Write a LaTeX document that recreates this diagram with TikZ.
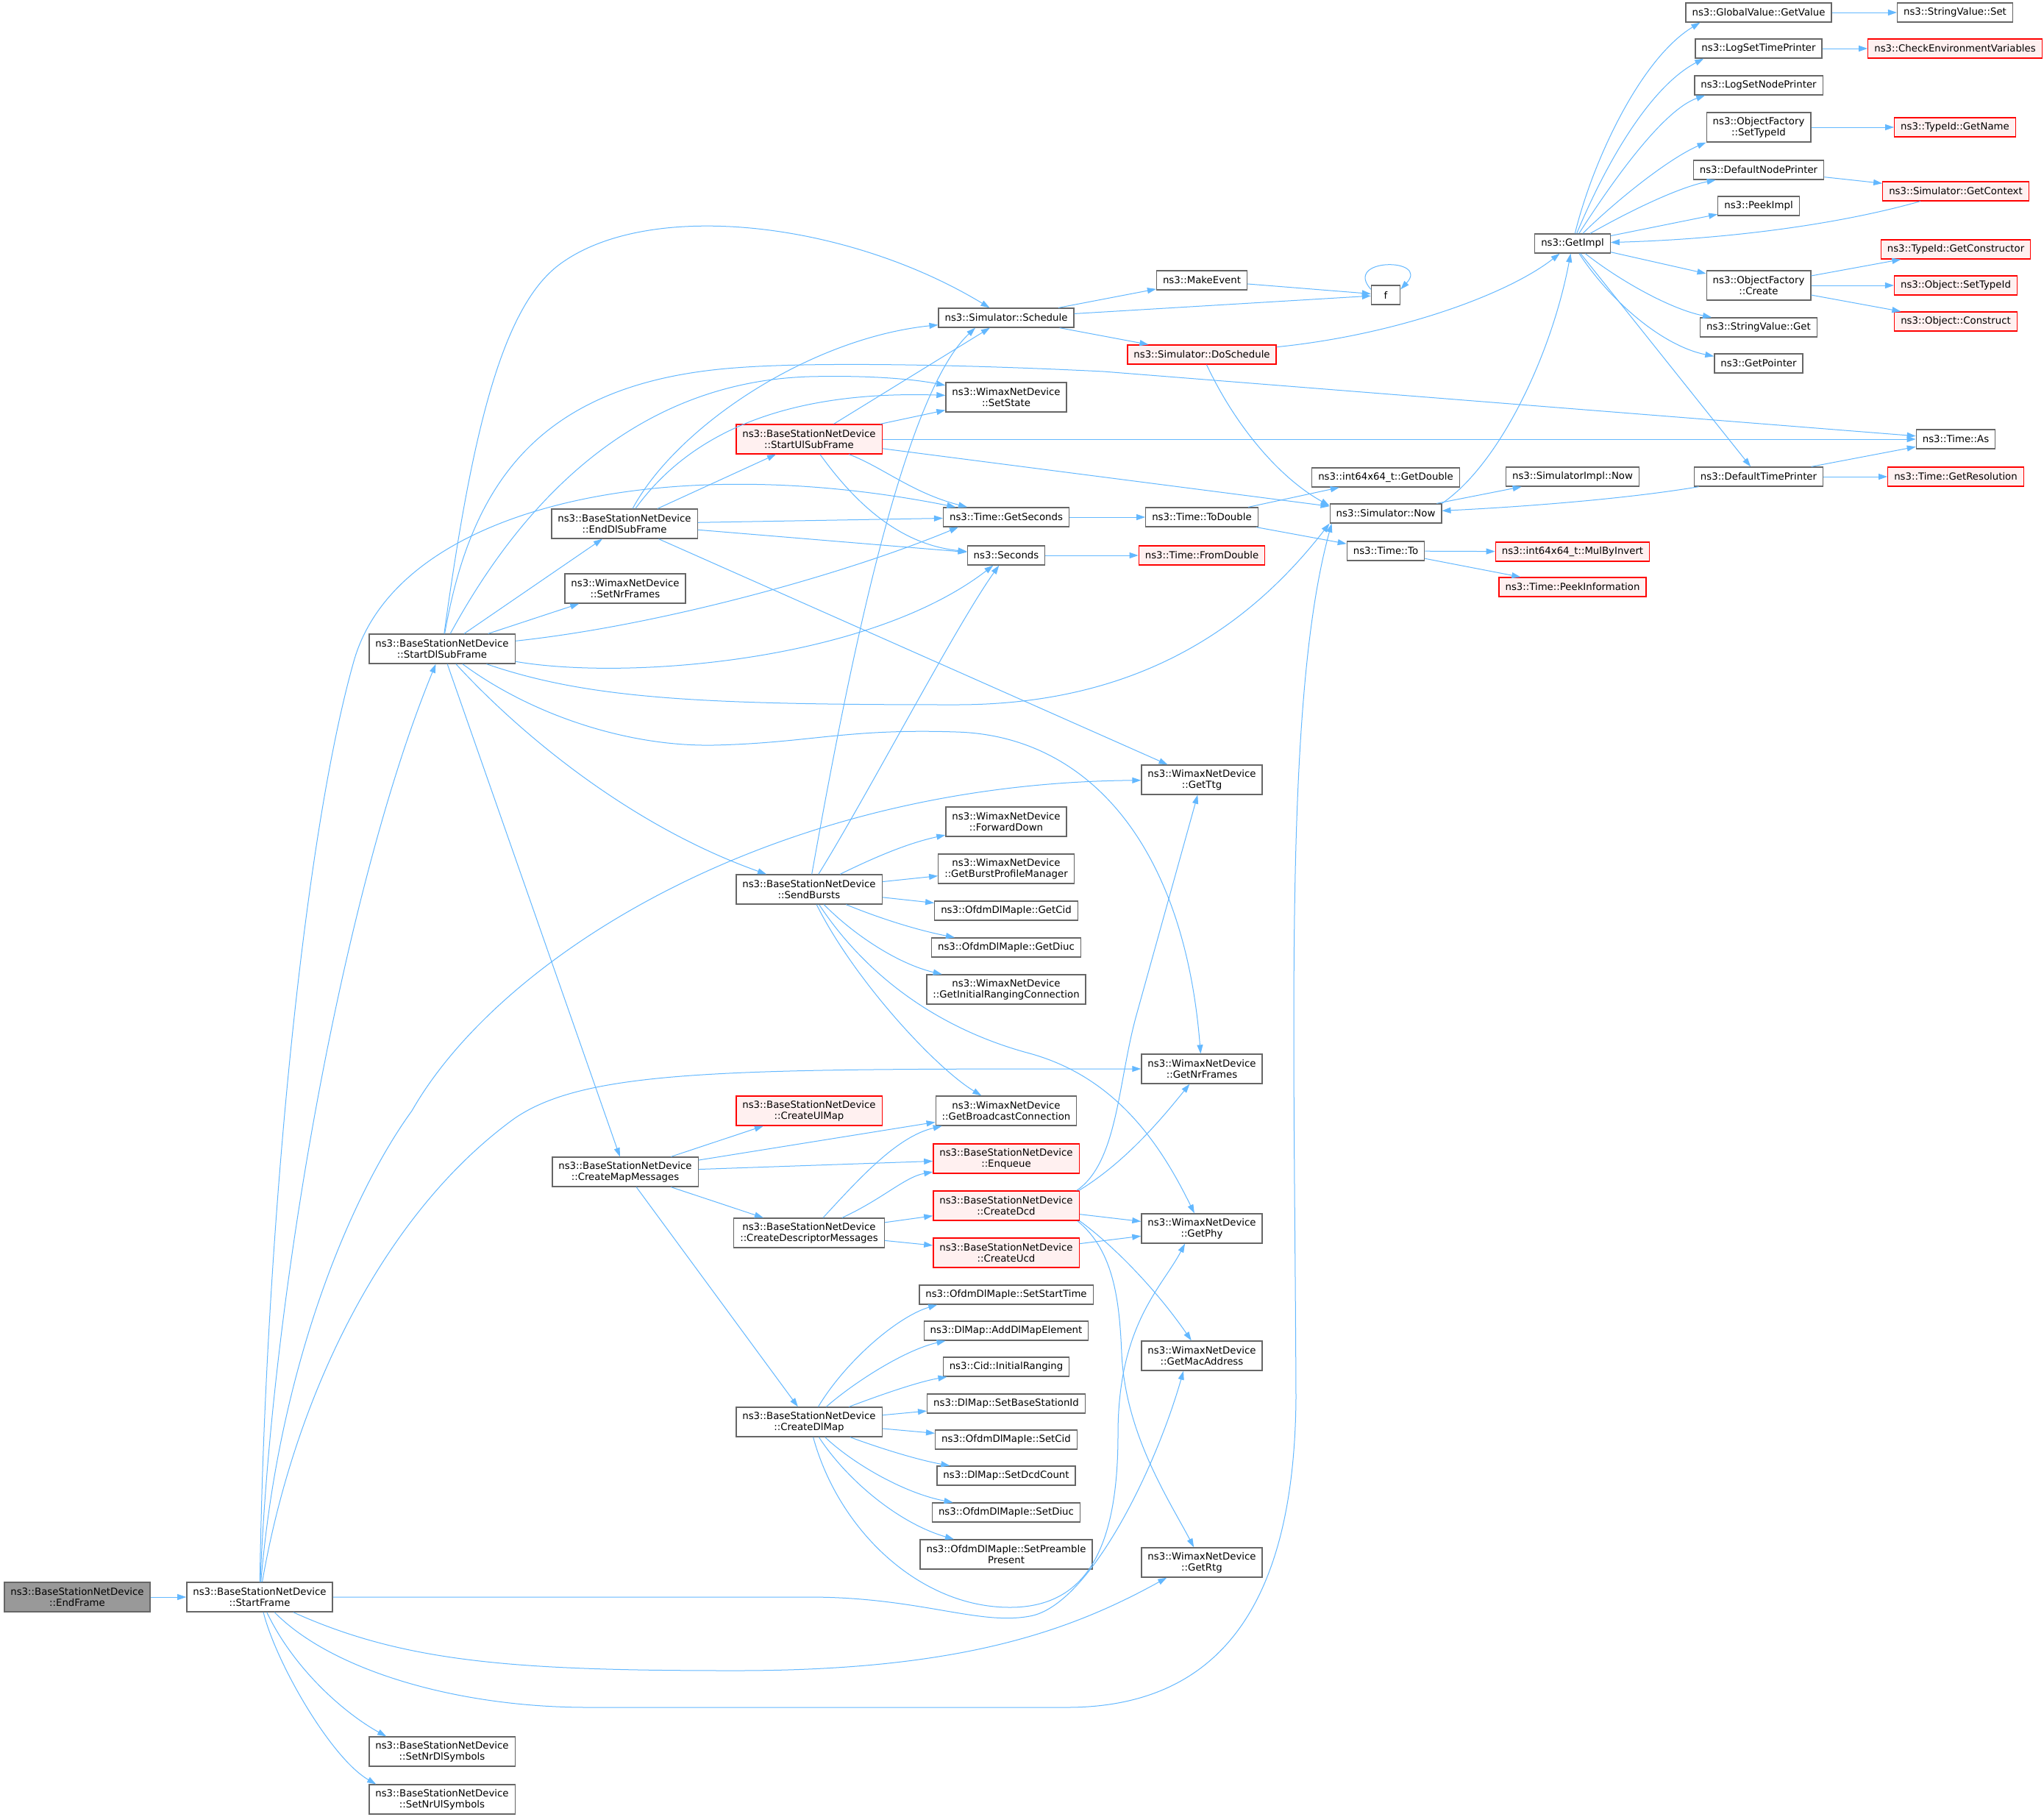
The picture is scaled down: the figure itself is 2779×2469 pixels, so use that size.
\documentclass[tikz,border=0pt]{standalone}
\usepackage{fontspec}
\setmainfont{DejaVu Sans}
\usepackage{tikz}
\usetikzlibrary{arrows.meta}
\definecolor{callblue}{HTML}{63B8FF}
\definecolor{boxgray}{HTML}{666666}
\definecolor{hotfill}{HTML}{FFF0F0}
\definecolor{rootgray}{HTML}{999999}
\newcommand{\graphfont}{\fontsize{13.3pt}{15pt}\selectfont}
\tikzset{
  fn/.style={draw=boxgray, fill=white, line width=1.3pt, inner xsep=8.5pt, inner ysep=3pt, minimum height=26pt, font=\graphfont, align=center},
  fntwo/.style={fn, minimum height=40pt},
  hot/.style={draw=red, fill=hotfill},
  root/.style={fill=rootgray},
  call/.style={draw=callblue, line width=1pt, -{Triangle[length=12pt,width=8pt]}},
}

\begin{document}
\begin{tikzpicture}[x=1pt, y=-1pt]
			%%%%% START %%%%%
			\fill[white] (0,0) rectangle (2779,2469);
			\useasboundingbox (0,0) rectangle (2779,2469);

			% left columns
			\node[fntwo, root] (EndFrame) at (105,2171) {ns3::BaseStationNetDevice\\::EndFrame};
			\node[fntwo] (StartFrame) at (353,2171) {ns3::BaseStationNetDevice\\::StartFrame};
			\node[fntwo] (StartDlSubFrame) at (601,882) {ns3::BaseStationNetDevice\\::StartDlSubFrame};
			\node[fntwo] (SetNrDlSymbols) at (601,2381) {ns3::BaseStationNetDevice\\::SetNrDlSymbols};
			\node[fntwo] (SetNrUlSymbols) at (601,2446) {ns3::BaseStationNetDevice\\::SetNrUlSymbols};
			\node[fntwo] (EndDlSubFrame) at (849,712) {ns3::BaseStationNetDevice\\::EndDlSubFrame};
			\node[fntwo] (SetNrFrames) at (850,800) {ns3::WimaxNetDevice\\::SetNrFrames};
			\node[fntwo] (CreateMapMessages) at (850,1593) {ns3::BaseStationNetDevice\\::CreateMapMessages};
			\node[fntwo, hot] (StartUlSubFrame) at (1100,597) {ns3::BaseStationNetDevice\\::StartUlSubFrame};
			\node[fntwo] (SendBursts) at (1100,1209) {ns3::BaseStationNetDevice\\::SendBursts};
			\node[fntwo, hot] (CreateUlMap) at (1100,1510) {ns3::BaseStationNetDevice\\::CreateUlMap};
			\node[fntwo] (CreateDescriptorMessages) at (1100,1676) {ns3::BaseStationNetDevice\\::CreateDescriptorMessages};
			\node[fntwo] (CreateDlMap) at (1100,1933) {ns3::BaseStationNetDevice\\::CreateDlMap};

			% middle column
			\node[fn] (Schedule) at (1368,432) {ns3::Simulator::Schedule};
			\node[fntwo] (SetState) at (1368,540) {ns3::WimaxNetDevice\\::SetState};
			\node[fn] (GetSeconds) at (1368,703) {ns3::Time::GetSeconds};
			\node[fn] (Seconds) at (1368,755) {ns3::Seconds};
			\node[fntwo] (ForwardDown) at (1368,1117) {ns3::WimaxNetDevice\\::ForwardDown};
			\node[fntwo] (GetBurstProfileManager) at (1368,1181) {ns3::WimaxNetDevice\\::GetBurstProfileManager};
			\node[fn] (GetCid) at (1368,1238) {ns3::OfdmDlMapIe::GetCid};
			\node[fn] (GetDiuc) at (1368,1288) {ns3::OfdmDlMapIe::GetDiuc};
			\node[fntwo] (GetInitialRangingConnection) at (1368,1345) {ns3::WimaxNetDevice\\::GetInitialRangingConnection};
			\node[fntwo] (GetBroadcastConnection) at (1368,1510) {ns3::WimaxNetDevice\\::GetBroadcastConnection};
			\node[fntwo, hot] (Enqueue) at (1368,1575) {ns3::BaseStationNetDevice\\::Enqueue};
			\node[fntwo, hot] (CreateDcd) at (1368,1639) {ns3::BaseStationNetDevice\\::CreateDcd};
			\node[fntwo, hot] (CreateUcd) at (1368,1703) {ns3::BaseStationNetDevice\\::CreateUcd};
			\node[fn] (SetStartTime) at (1368,1760) {ns3::OfdmDlMapIe::SetStartTime};
			\node[fn] (AddDlMapElement) at (1368,1809) {ns3::DlMap::AddDlMapElement};
			\node[fn] (InitialRanging) at (1368,1858) {ns3::Cid::InitialRanging};
			\node[fn] (SetBaseStationId) at (1368,1908) {ns3::DlMap::SetBaseStationId};
			\node[fn] (SetCid) at (1368,1957) {ns3::OfdmDlMapIe::SetCid};
			\node[fn] (SetDcdCount) at (1368,2006) {ns3::DlMap::SetDcdCount};
			\node[fn] (SetDiuc) at (1368,2056) {ns3::OfdmDlMapIe::SetDiuc};
			\node[fntwo] (SetPreamblePresent) at (1368,2113) {ns3::OfdmDlMapIe::SetPreamble\\Present};

			\node[fn] (MakeEvent) at (1634,381) {ns3::MakeEvent};
			\node[fn, hot] (DoSchedule) at (1634,482) {ns3::Simulator::DoSchedule};
			\node[fn] (ToDouble) at (1634,703) {ns3::Time::ToDouble};
			\node[fn, hot] (FromDouble) at (1634,755) {ns3::Time::FromDouble};
			\node[fntwo] (GetTtg) at (1634,1060) {ns3::WimaxNetDevice\\::GetTtg};
			\node[fntwo] (GetNrFrames) at (1634,1453) {ns3::WimaxNetDevice\\::GetNrFrames};
			\node[fntwo] (GetPhy) at (1634,1670) {ns3::WimaxNetDevice\\::GetPhy};
			\node[fntwo] (GetMacAddress) at (1634,1843) {ns3::WimaxNetDevice\\::GetMacAddress};
			\node[fntwo] (GetRtg) at (1634,2124) {ns3::WimaxNetDevice\\::GetRtg};

			% right columns
			\node[fn, minimum width=39pt] (f) at (1884,401) {f};
			\node[fn] (GetDouble) at (1884,649) {ns3::int64x64\_t::GetDouble};
			\node[fn] (Now) at (1884,698) {ns3::Simulator::Now};
			\node[fn] (TimeTo) at (1884,749) {ns3::Time::To};
			\node[fn] (GetImpl) at (2138,331) {ns3::GetImpl};
			\node[fn] (SimImplNow) at (2138,648) {ns3::SimulatorImpl::Now};
			\node[fn, hot] (MulByInvert) at (2138,750) {ns3::int64x64\_t::MulByInvert};
			\node[fn, hot] (PeekInformation) at (2138,798) {ns3::Time::PeekInformation};

			\node[fn] (GetValue) at (2391,17) {ns3::GlobalValue::GetValue};
			\node[fn] (LogSetTimePrinter) at (2391,66) {ns3::LogSetTimePrinter};
			\node[fn] (LogSetNodePrinter) at (2391,116) {ns3::LogSetNodePrinter};
			\node[fntwo] (OFSetTypeId) at (2391,173) {ns3::ObjectFactory\\::SetTypeId};
			\node[fn] (DefaultNodePrinter) at (2391,231) {ns3::DefaultNodePrinter};
			\node[fn] (PeekImpl) at (2391,280) {ns3::PeekImpl};
			\node[fntwo] (OFCreate) at (2391,388) {ns3::ObjectFactory\\::Create};
			\node[fn] (StringValueGet) at (2391,445) {ns3::StringValue::Get};
			\node[fn] (GetPointer) at (2391,494) {ns3::GetPointer};
			\node[fn] (DefaultTimePrinter) at (2391,648) {ns3::DefaultTimePrinter};

			\node[fn] (StringValueSet) at (2658,17) {ns3::StringValue::Set};
			\node[fn, hot] (CheckEnv) at (2658,66) {ns3::CheckEnvironmentVariables};
			\node[fn, hot] (GetName) at (2658,173) {ns3::TypeId::GetName};
			\node[fn, hot] (GetContext) at (2659,260) {ns3::Simulator::GetContext};
			\node[fn, hot] (GetConstructor) at (2659,339) {ns3::TypeId::GetConstructor};
			\node[fn, hot] (ObjSetTypeId) at (2659,388) {ns3::Object::SetTypeId};
			\node[fn, hot] (ObjConstruct) at (2659,437) {ns3::Object::Construct};
			\node[fn] (TimeAs) at (2659,597) {ns3::Time::As};
			\node[fn, hot] (GetResolution) at (2659,648) {ns3::Time::GetResolution};

			% calls of StartFrame
			\draw[call] (EndFrame) -- (StartFrame);
			\draw[call] (StartFrame) .. controls (370,1750) and (470,1200) .. (StartDlSubFrame);
			\draw[call] (StartFrame) .. controls (360,1700) and (410,1150) .. (481,899) .. controls (540,690) and (900,610) .. (GetSeconds);
			\draw[call] (StartFrame) .. controls (380,1850) and (480,1620) .. (560,1510) .. controls (680,1300) and (1050,1065) .. (GetTtg);
			\draw[call] (StartFrame) .. controls (400,1900) and (520,1650) .. (700,1520) .. controls (800,1452) and (1000,1453) .. (GetNrFrames);
			\draw[call] (StartFrame) -- (1100,2171) .. controls (1250,2171) and (1330,2210) .. (1400,2197) .. controls (1480,2183) and (1570,2000) .. ([xshift=-25pt]GetMacAddress.south);
			\draw[call] (StartFrame) .. controls (550,2260) and (700,2271) .. (1000,2271) .. controls (1300,2271) and (1450,2220) .. ([xshift=35pt]GetRtg.south west);
			\draw[call] (StartFrame) .. controls (450,2270) and (620,2321) .. (800,2321) -- (1450,2321) .. controls (1680,2321) and (1760,2150) .. (1762,1900) .. controls (1760,1400) and (1745,950) .. ([xshift=3pt]Now.south west);
			\draw[call] (StartFrame) .. controls (400,2270) and (470,2330) .. ([xshift=24pt]SetNrDlSymbols.north west);
			\draw[call] (StartFrame) .. controls (375,2260) and (450,2390) .. ([xshift=10pt]SetNrUlSymbols.north west);

			% calls of StartDlSubFrame
			\draw[call] (StartDlSubFrame) .. controls (640,600) and (680,420) .. (760,360) .. controls (880,270) and (1150,300) .. (Schedule);
			\draw[call] (StartDlSubFrame) .. controls (640,660) and (730,520) .. (1000,500) .. controls (1100,492) and (1300,495) .. (1500,505) -- (TimeAs);
			\draw[call] (StartDlSubFrame) .. controls (700,700) and (850,520) .. (1100,512) .. controls (1180,510) and (1240,515) .. (SetState);
			\draw[call] (StartDlSubFrame) -- (EndDlSubFrame);
			\draw[call] (StartDlSubFrame) -- (SetNrFrames);
			\draw[call] (StartDlSubFrame) .. controls (900,850) and (1150,780) .. ([xshift=21pt]GetSeconds.south west);
			\draw[call] (StartDlSubFrame) .. controls (850,925) and (1180,900) .. (Seconds);
			\draw[call] (StartDlSubFrame) .. controls (800,950) and (950,958) .. (1300,958) .. controls (1550,958) and (1700,850) .. (Now.south west);
			\draw[call] (StartDlSubFrame) .. controls (700,990) and (850,1120) .. (SendBursts);
			\draw[call] (StartDlSubFrame) -- (CreateMapMessages);
			\draw[call] (StartDlSubFrame) .. controls (720,970) and (850,1015) .. (970,1013) .. controls (1100,1010) and (1150,990) .. (1300,995) .. controls (1480,1000) and (1610,1150) .. (GetNrFrames);

			% calls of EndDlSubFrame and StartUlSubFrame
			\draw[call] (EndDlSubFrame) -- (StartUlSubFrame);
			\draw[call] (EndDlSubFrame) .. controls (920,580) and (1100,460) .. (Schedule);
			\draw[call] (EndDlSubFrame) .. controls (930,600) and (1050,530) .. (SetState);
			\draw[call] (EndDlSubFrame) -- (GetSeconds);
			\draw[call] (EndDlSubFrame) -- (Seconds);
			\draw[call] (EndDlSubFrame) -- (GetTtg);
			\draw[call] (StartUlSubFrame) -- (Schedule);
			\draw[call] (StartUlSubFrame) -- (SetState);
			\draw[call] (StartUlSubFrame) -- (TimeAs);
			\draw[call] (StartUlSubFrame) -- (Now);
			\draw[call] (StartUlSubFrame) .. controls (1200,635) and (1240,670) .. (GetSeconds);
			\draw[call] (StartUlSubFrame) .. controls (1160,680) and (1220,740) .. (Seconds);

			% calls of SendBursts
			\draw[call] (SendBursts) .. controls (1150,930) and (1225,540) .. ([xshift=-42pt]Schedule.south);
			\draw[call] (SendBursts) .. controls (1180,1080) and (1300,850) .. (Seconds);
			\draw[call] (SendBursts) .. controls (1200,1160) and (1240,1145) .. (ForwardDown);
			\draw[call] (SendBursts) -- (GetBurstProfileManager);
			\draw[call] (SendBursts) -- (GetCid);
			\draw[call] (SendBursts) .. controls (1200,1250) and (1250,1265) .. (GetDiuc);
			\draw[call] (SendBursts) .. controls (1160,1270) and (1220,1310) .. (GetInitialRangingConnection);
			\draw[call] (SendBursts) .. controls (1160,1330) and (1270,1450) .. (GetBroadcastConnection);
			\draw[call] (SendBursts) .. controls (1180,1330) and (1280,1400) .. (1400,1432) .. controls (1520,1465) and (1580,1560) .. (GetPhy);

			% calls of CreateMapMessages and CreateDescriptorMessages
			\draw[call] (CreateMapMessages) -- (CreateUlMap);
			\draw[call] (CreateMapMessages) -- (GetBroadcastConnection);
			\draw[call] (CreateMapMessages) -- (Enqueue);
			\draw[call] (CreateMapMessages) -- (CreateDescriptorMessages);
			\draw[call] (CreateMapMessages) -- (CreateDlMap);
			\draw[call] (CreateDescriptorMessages) .. controls (1170,1600) and (1220,1545) .. (GetBroadcastConnection);
			\draw[call] (CreateDescriptorMessages) .. controls (1200,1630) and (1230,1600) .. (Enqueue);
			\draw[call] (CreateDescriptorMessages) -- (CreateDcd);
			\draw[call] (CreateDescriptorMessages) -- (CreateUcd);

			% calls of CreateDcd and CreateUcd
			\draw[call] ([xshift=-4pt]CreateDcd.north east) .. controls (1520,1580) and (1520,1470) .. (1545,1380) -- (GetTtg);
			\draw[call] ([xshift=-1pt]CreateDcd.north east) .. controls (1530,1580) and (1580,1520) .. (GetNrFrames);
			\draw[call] (CreateDcd) -- (GetPhy);
			\draw[call] (CreateDcd.south east) .. controls (1510,1690) and (1570,1750) .. (GetMacAddress);
			\draw[call] ([xshift=-3pt]CreateDcd.south east) .. controls (1515,1700) and (1522,1770) .. (1525,1840) .. controls (1530,1950) and (1590,2040) .. (GetRtg);
			\draw[call] (CreateUcd) -- (GetPhy);

			% calls of CreateDlMap
			\draw[call] (CreateDlMap) .. controls (1150,1850) and (1220,1790) .. ([xshift=25pt]SetStartTime.south west);
			\draw[call] (CreateDlMap) .. controls (1160,1880) and (1230,1835) .. ([xshift=30pt]AddDlMapElement.south west);
			\draw[call] (CreateDlMap) .. controls (1200,1895) and (1250,1878) .. (InitialRanging);
			\draw[call] (CreateDlMap) -- (SetBaseStationId);
			\draw[call] (CreateDlMap) -- (SetCid);
			\draw[call] (CreateDlMap) .. controls (1200,1970) and (1250,1985) .. (SetDcdCount);
			\draw[call] (CreateDlMap) .. controls (1160,1990) and (1230,2030) .. (SetDiuc);
			\draw[call] (CreateDlMap) .. controls (1150,2010) and (1220,2070) .. (SetPreamblePresent);
			\draw[call] (CreateDlMap) .. controls (1140,2080) and (1250,2185) .. (1373,2185) .. controls (1480,2185) and (1520,2100) .. (1520,1950) .. controls (1520,1800) and (1580,1750) .. ([xshift=-23pt]GetPhy.south);

			% simulator and time
			\draw[call] (Schedule) -- (MakeEvent);
			\draw[call] (Schedule) -- (f);
			\draw[call] (Schedule) -- (DoSchedule);
			\draw[call] (MakeEvent) -- (f);
			\draw[call] ([yshift=-6pt]f.north west) .. controls (1825,350) and (1945,350) .. ([yshift=-6pt]f.north east);
			\draw[call] (DoSchedule) .. controls (1900,455) and (2050,400) .. (GetImpl);
			\draw[call] (DoSchedule) .. controls (1680,580) and (1740,650) .. ([yshift=-3pt]Now.north west);
			\draw[call] (Now.north east) .. controls (2040,630) and (2110,480) .. (GetImpl);
			\draw[call] (Now) -- (SimImplNow);
			\draw[call] (GetSeconds) -- (ToDouble);
			\draw[call] (ToDouble) -- (GetDouble);
			\draw[call] (ToDouble) -- (TimeTo);
			\draw[call] (Seconds) -- (FromDouble);
			\draw[call] (TimeTo) -- (MulByInvert);
			\draw[call] (TimeTo) -- (PeekInformation);

			% calls of GetImpl
			\draw[call] (GetImpl) .. controls (2165,220) and (2230,80) .. ([xshift=20pt]GetValue.south west);
			\draw[call] (GetImpl) .. controls (2180,230) and (2240,120) .. ([xshift=12pt]LogSetTimePrinter.south west);
			\draw[call] (GetImpl) .. controls (2190,250) and (2260,150) .. ([xshift=15pt]LogSetNodePrinter.south west);
			\draw[call] (GetImpl) .. controls (2200,270) and (2270,215) .. (OFSetTypeId.south west);
			\draw[call] (GetImpl) .. controls (2210,290) and (2280,255) .. ([xshift=31pt]DefaultNodePrinter.south west);
			\draw[call] (GetImpl) -- (PeekImpl);
			\draw[call] (GetContext) .. controls (2500,305) and (2350,325) .. (GetImpl);
			\draw[call] (GetImpl) -- (OFCreate);
			\draw[call] (GetImpl) .. controls (2200,380) and (2270,420) .. ([xshift=16pt]StringValueGet.north west);
			\draw[call] (GetImpl) .. controls (2190,410) and (2260,470) .. ([yshift=-4pt]GetPointer.north west);
			\draw[call] (GetImpl) -- (DefaultTimePrinter);
			\draw[call] (GetValue) -- (StringValueSet);
			\draw[call] (LogSetTimePrinter) -- (CheckEnv);
			\draw[call] (OFSetTypeId) -- (GetName);
			\draw[call] (DefaultNodePrinter) -- (GetContext);
			\draw[call] (OFCreate) -- (GetConstructor);
			\draw[call] (OFCreate) -- (ObjSetTypeId);
			\draw[call] (OFCreate) -- (ObjConstruct);
			\draw[call] (DefaultTimePrinter) -- (TimeAs);
			\draw[call] (DefaultTimePrinter) -- (GetResolution);
			\draw[call] (DefaultTimePrinter) .. controls (2200,680) and (2050,690) .. (Now);
			%%%%% END %%%%%
\end{tikzpicture}
\end{document}
